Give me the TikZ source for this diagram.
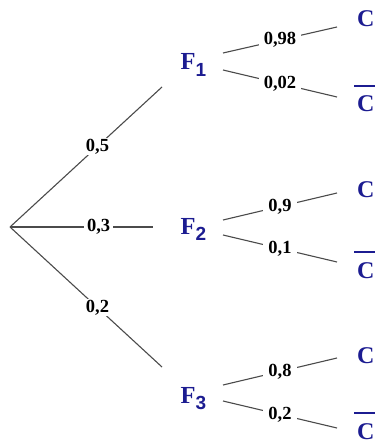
\documentclass[tikz,border=0pt]{standalone}
\usepackage{fontspec}
\setmainfont{Liberation Serif}
\newfontfamily\subsans{Liberation Sans}
\definecolor{treeblue}{RGB}{28,28,145}
\definecolor{branchgray}{RGB}{75,75,75}
\newcommand\Fsub[1]{F\raisebox{-6.5pt}{\subsans\bfseries\fontsize{19}{19}\selectfont #1}}
\newcommand\Cbar{\rlap{\kern-3pt\raisebox{25pt}{\rule{21pt}{1.6pt}}}C}
\begin{document}
\begin{tikzpicture}[x=1pt,y=-1pt,
  branch/.style={draw=branchgray, line width=1.1pt},
  prob/.style={fill=white, text=black, font=\bfseries\fontsize{18.5}{18.5}\selectfont, inner xsep=3pt, inner ysep=1pt},
  prob2/.style={prob, inner xsep=5pt},
  event/.style={text=treeblue, font=\bfseries\fontsize{24.5}{24.5}\selectfont, inner sep=0pt, anchor=base west},
  outcome/.style={text=treeblue, font=\bfseries\fontsize{24}{24}\selectfont, inner sep=0pt, anchor=base west}]
\useasboundingbox[fill=white] (0,0) rectangle (379,443);
% root and events
\coordinate (root) at (10,227);
\node[event] (F1) at (180.5,70) {\Fsub{1}};
\node[event] (F2) at (180.5,234) {\Fsub{2}};
\node[event] (F3) at (180.5,403) {\Fsub{3}};
% outcomes
\node[outcome] (C1) at (357,27) {C};
\node[outcome] (Cb1) at (357,112) {\Cbar};
\node[outcome] (C2) at (357,197) {C};
\node[outcome] (Cb2) at (357,278) {\Cbar};
\node[outcome] (C3) at (357,363) {C};
\node[outcome] (Cb3) at (357,439) {\Cbar};
% connector ports
\coordinate (F1in) at (162,87);
\coordinate (F2in) at (153,227);
\coordinate (F3in) at (162,367);
\coordinate (F1up) at (223,53);
\coordinate (F1dn) at (223,70);
\coordinate (F2up) at (223,220);
\coordinate (F2dn) at (223,235);
\coordinate (F3up) at (223,385);
\coordinate (F3dn) at (223,401);
\coordinate (C1in) at (337,27);
\coordinate (Cb1in) at (337,97);
\coordinate (C2in) at (337,193);
\coordinate (Cb2in) at (337,262);
\coordinate (C3in) at (337,358);
\coordinate (Cb3in) at (337,428);
% first level
\draw[branch] (root) -- node[prob, pos=0.576] (p1) {0,5} (F1in);
\draw[branch] (root) -- node[prob, pos=0.62] (p2) {0,3} (F2in);
\draw[branch] (root) -- node[prob, pos=0.576] (p3) {0,2} (F3in);
% second level
\draw[branch] (F1up) -- node[prob2] (q11) {0,98} (C1in);
\draw[branch] (F1dn) -- node[prob2] (q12) {0,02} (Cb1in);
\draw[branch] (F2up) -- node[prob2] (q21) {0,9} (C2in);
\draw[branch] (F2dn) -- node[prob2] (q22) {0,1} (Cb2in);
\draw[branch] (F3up) -- node[prob2] (q31) {0,8} (C3in);
\draw[branch] (F3dn) -- node[prob2] (q32) {0,2} (Cb3in);
\end{tikzpicture}
\end{document}
